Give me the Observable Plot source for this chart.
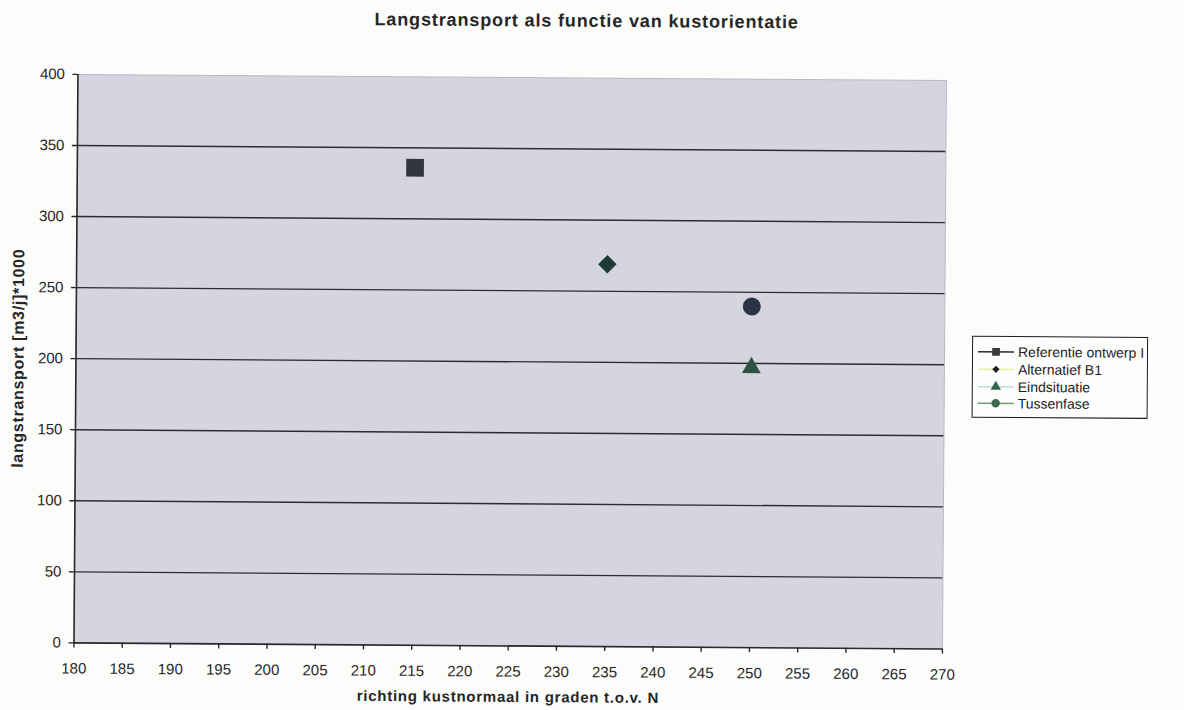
<!DOCTYPE html>
<html>
<head>
<meta charset="utf-8">
<script src="https://cdn.jsdelivr.net/npm/d3@7"></script>
<script src="https://cdn.jsdelivr.net/npm/@observablehq/plot@0.6"></script>
<style>
  html, body { margin: 0; padding: 0; background: #fcfcfa; }
  #chart {
    position: relative; width: 1184px; height: 710px;
    transform: rotate(0.4deg); transform-origin: 50% 50%;
    font-family: "Liberation Sans", Arial, sans-serif; color: #262626;
  }
  #chart > svg { position: absolute; left: 0; top: 0; }
  #legend {
    position: absolute; left: 972px; top: 333px; width: 176px; height: 82px;
    box-sizing: border-box; border: 1.8px solid #1c1c1c; background: #fdfdfb;
  }
</style>
</head>
<body>
<div id="chart"></div>
<script>
// Langstransport per variant
const series = ["Referentie ontwerp I", "Alternatief B1", "Eindsituatie", "Tussenfase"];
const richting = [215, 235, 250, 250];          // kustnormaal, graden t.o.v. N
const transport = [336, 269, 197, 240];        // [m3/j]*1000

// Axis ticks
const xTicks = d3.range(180, 271, 5);
const yTicks = d3.range(0, 401, 50);
const gridValues = [50, 100, 150, 200, 250, 300, 350];

// Texts
const title = "Langstransport als functie van kustorientatie";
const xLabel = "richting kustnormaal in graden t.o.v. N";
const yLabel = "langstransport [m3/j]*1000";

// Marker styling per series
const markerShape = ["square", "diamond2", "triangle", "circle"];
const markerFill = ["#34363d", "#1f3b36", "#2d5443", "#2b3447"];
const markerR = [10, 8.3, 7, 9];
const legendLine = ["#2a2a2a", "#e6eea0", "#bcdde3", "#6e9a78"];
const legendFill = ["#3a3a40", "#1e2224", "#2f6650", "#3e6a4c"];

const points = series.map((s, i) => ({ serie: s, richting: richting[i], transport: transport[i] }));

const chart = Plot.plot({
  width: 1184,
  height: 710,
  marginLeft: 75.5,
  marginRight: 240,
  marginTop: 77.5,
  marginBottom: 64,
  style: { fontFamily: "'Liberation Sans', Arial, sans-serif", fontSize: "15px", color: "#262626", background: "transparent" },
  x: { domain: [180, 270] },
  y: { domain: [0, 400] },
  marks: [
    Plot.frame({ fill: "#d5d5e1", stroke: "#b9b9c6", strokeWidth: 1 }),
    Plot.ruleY(gridValues, { stroke: "#2c2c30", strokeWidth: 1.4 }),
    Plot.ruleX([180], { stroke: "#2a2a2a", strokeWidth: 1.6 }),
    Plot.ruleY([0], { stroke: "#2a2a2a", strokeWidth: 1.6 }),
    Plot.axisY({ ticks: yTicks, tickSize: 5, tickPadding: 8, label: null, fontSize: 15, strokeWidth: 1.4 }),
    Plot.axisX({ ticks: xTicks, tickSize: 5, tickPadding: 15, label: null, fontSize: 15, strokeWidth: 1.4 }),
    ...series.map((s, i) => Plot.dot([points[i]], {
      x: "richting", y: "transport",
      symbol: markerShape[i], fill: markerFill[i], r: markerR[i], stroke: "none"
    })),
    Plot.text([title], {
      text: d => d, frameAnchor: "top", textAnchor: "middle", dx: 74, dy: -64,
      fontWeight: "bold", fontSize: 18
    }),
    Plot.text([xLabel], {
      text: d => d, frameAnchor: "bottom", textAnchor: "middle", dy: 56,
      fontWeight: "bold", fontSize: 15
    }),
    Plot.text([yLabel], {
      text: d => d, frameAnchor: "left", textAnchor: "middle", dx: -57.5, rotate: -90,
      fontWeight: "bold", fontSize: 16
    })
  ]
});

// Wider letter spacing for the title and axis titles
const spacing = new Map([[title, "0.87px"], [xLabel, "0.75px"], [yLabel, "0.7px"]]);
d3.select(chart).selectAll("text")
  .filter(function () { return spacing.has(this.textContent); })
  .style("letter-spacing", function () { return spacing.get(this.textContent); });

const root = document.getElementById("chart");
root.appendChild(chart);

// Legend: line + marker + name per series
const legend = d3.select(root).append("div").attr("id", "legend");
const lsvg = legend.append("svg").attr("width", 174).attr("height", 80)
  .style("position", "absolute").style("left", "0").style("top", "0");
const rowY = [15, 32.5, 50, 66.5];
const legendSize = [60, 34, 46, 56];
series.forEach((s, i) => {
  const g = lsvg.append("g").attr("transform", `translate(0,${rowY[i]})`);
  g.append("line").attr("x1", 5).attr("x2", 41).attr("y1", 0).attr("y2", 0)
    .attr("stroke", legendLine[i]).attr("stroke-width", 1.6);
  const sym = { square: d3.symbolSquare, diamond2: d3.symbolDiamond2, triangle: d3.symbolTriangle, circle: d3.symbolCircle }[markerShape[i]];
  g.append("path").attr("transform", "translate(23,0)")
    .attr("d", d3.symbol(sym, legendSize[i])()).attr("fill", legendFill[i]);
  g.append("text").attr("x", 45).attr("y", 0).attr("dy", "0.35em")
    .attr("font-size", 14).attr("fill", "#1e1e1e")
    .attr("font-family", "'Liberation Sans', Arial, sans-serif").text(s);
});
</script>
</body>
</html>
